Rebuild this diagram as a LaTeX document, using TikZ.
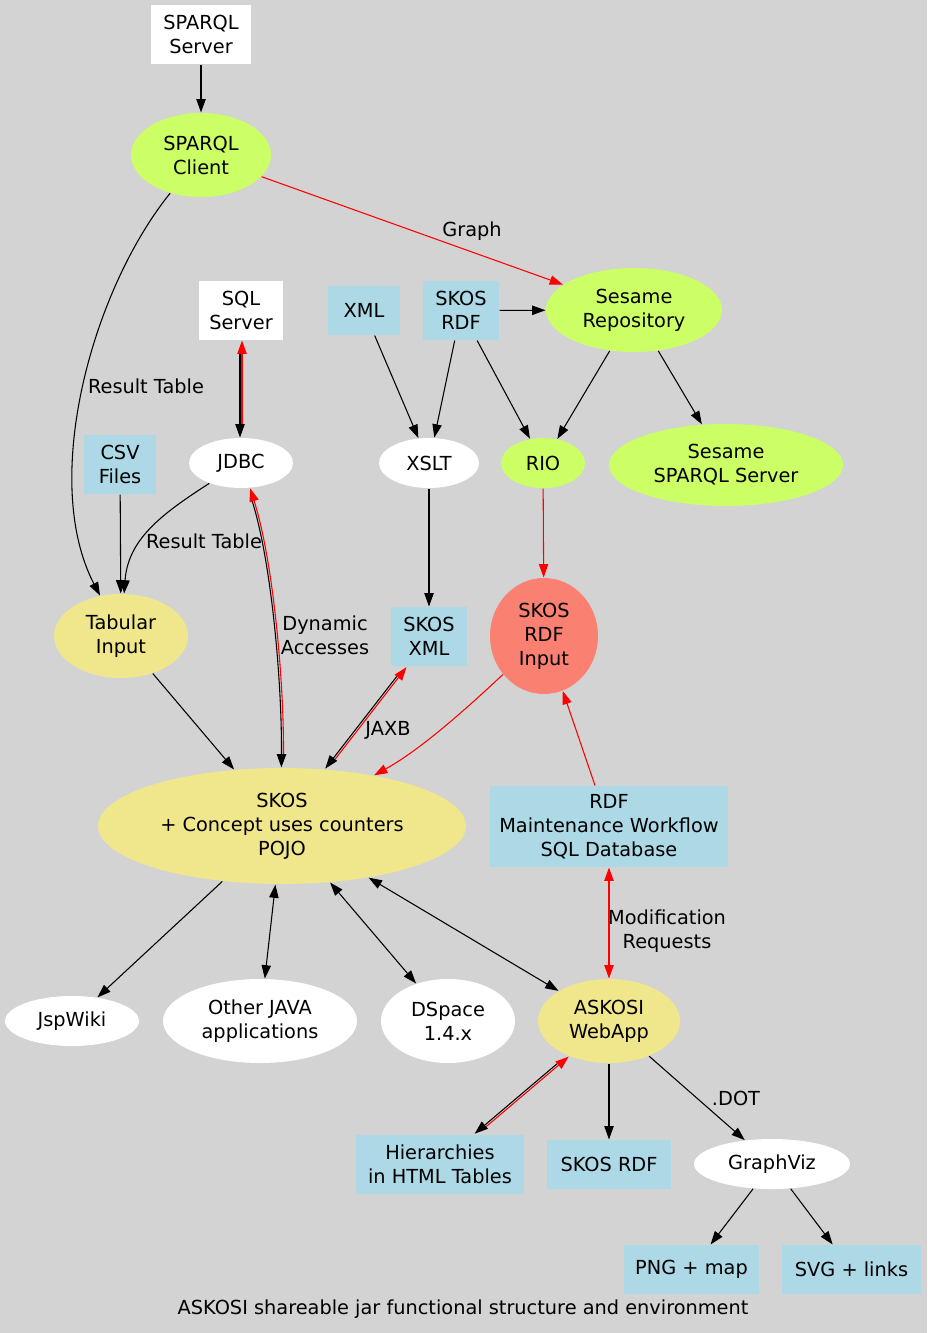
\documentclass[tikz,border=0pt]{standalone}
\usepackage{fontspec}
\setmainfont{DejaVu Sans}
\usetikzlibrary{shapes.geometric,arrows.meta}

\definecolor{bggray}{RGB}{211,211,211}
\definecolor{sparqlgreen}{RGB}{204,255,102}
\definecolor{khaki}{RGB}{240,230,140}
\definecolor{salmon}{RGB}{250,128,114}
\definecolor{lblue}{RGB}{173,216,230}

\tikzset{
  every node/.style={font=\fontsize{14.5}{18}\selectfont, align=center, inner sep=0pt},
  wbox/.style={rectangle, fill=white},
  bbox/.style={rectangle, fill=lblue},
  woval/.style={ellipse, fill=white},
  goval/.style={ellipse, fill=sparqlgreen},
  koval/.style={ellipse, fill=khaki},
  roval/.style={ellipse, fill=salmon}
}

\begin{document}
\begin{tikzpicture}[x=0.75pt, y=-0.75pt, line width=0.8pt,
  >={Triangle[length=10pt,width=7pt]}]
\fill[bggray] (0,0) rectangle (927,1333);

% nodes, top to bottom
\node[wbox, minimum width=75pt, minimum height=44.25pt] (sparqlsrv) at (201,34.5) {SPARQL\\Server};
\node[goval, minimum width=105pt, minimum height=63pt] (sparqlcli) at (201,155) {SPARQL\\Client};
\node[goval, minimum width=132pt, minimum height=63pt] (sesrepo) at (634,310) {Sesame\\Repository};
\node[wbox, minimum width=63pt, minimum height=44.25pt] (sqlsrv) at (241,310.5) {SQL\\Server};
\node[bbox, minimum width=54pt, minimum height=36.75pt] (xml) at (364,310.5) {XML};
\node[bbox, minimum width=57pt, minimum height=44.25pt] (skosrdf) at (461,310.5) {SKOS\\RDF};
\node[woval, minimum width=78pt, minimum height=37.5pt] (jdbc) at (241,463) {JDBC};
\node[woval, minimum width=75pt, minimum height=37.5pt] (xslt) at (429,463) {XSLT};
\node[goval, minimum width=63pt, minimum height=37.5pt] (rio) at (543,463) {RIO};
\node[goval, minimum width=175.5pt, minimum height=61.5pt] (sessparql) at (726,465) {Sesame\\SPARQL Server};
\node[bbox, minimum width=54pt, minimum height=44.25pt] (csv) at (120,464.5) {CSV\\Files};
\node[koval, minimum width=100.5pt, minimum height=63pt] (tabin) at (121,636) {Tabular\\Input};
\node[bbox, minimum width=57pt, minimum height=44.25pt] (skosxml) at (429,636.5) {SKOS\\XML};
\node[roval, minimum width=81pt, minimum height=87pt] (rdfin) at (544,636) {SKOS\\RDF\\Input};
\node[koval, minimum width=276pt, minimum height=87pt] (skos) at (282,826) {SKOS\\+ Concept uses counters\\POJO};
\node[bbox, minimum width=178.5pt, minimum height=60.75pt] (rdfmaint) at (609,826.5) {RDF\\Maintenance Workflow\\SQL Database};
\node[woval, minimum width=100.5pt, minimum height=37.5pt] (jspwiki) at (72,1021) {JspWiki};
\node[woval, minimum width=145.5pt, minimum height=63pt] (otherjava) at (260,1021) {Other JAVA\\applications};
\node[woval, minimum width=100.5pt, minimum height=63pt] (dspace) at (448,1021) {DSpace\\1.4.x};
\node[koval, minimum width=106.5pt, minimum height=63pt] (askosi) at (609,1021) {ASKOSI\\WebApp};
\node[bbox, minimum width=126pt, minimum height=44.25pt] (hier) at (440,1164.5) {Hierarchies\\in HTML Tables};
\node[bbox, minimum width=93pt, minimum height=36.75pt] (skosrdfout) at (609,1164.5) {SKOS RDF};
\node[woval, minimum width=117pt, minimum height=37.5pt] (graphviz) at (772,1164) {GraphViz};
\node[bbox, minimum width=101.25pt, minimum height=36.75pt] (png) at (691.5,1269.5) {PNG + map};
\node[bbox, minimum width=104.25pt, minimum height=36.75pt] (svg) at (851.5,1269.5) {SVG + links};

% edge labels
\node (lgraph) at (472,231) {Graph};
\node (lres1) at (146,386) {Result Table};
\node (lres2) at (204,541) {Result Table};
\node (ldyn) at (325,635) {Dynamic\\Accesses};
\node (ljaxb) at (388,730) {JAXB};
\node (lmod) at (667,931) {Modification\\Requests};
\node (ldot) at (736,1098) {.DOT};
\node (caption) at (463,1309) {ASKOSI shareable jar functional structure and environment};

% plain edges
\draw[->] (sparqlsrv) -- (sparqlcli);
\draw[->, red] (sparqlcli) -- (sesrepo);
\draw[->] (sparqlcli) .. controls (92,290) and (40,480) .. (tabin);
\draw[->] (jdbc) .. controls (160,515) and (128,540) .. (tabin);
\draw[->] (csv) -- (tabin);
\draw[->] (xml) -- (xslt);
\draw[->] (skosrdf) -- (xslt);
\draw[->] (skosrdf) -- (rio);
\draw[->] (skosrdf) -- (sesrepo);
\draw[->] (sesrepo) -- (rio);
\draw[->] (sesrepo) -- (sessparql);
\draw[->] (xslt) -- (skosxml);
\draw[->, red] (rio) -- (rdfin);
\draw[->] (tabin) -- (skos);
\draw[->, red] (rdfin) .. controls (465,710) and (420,750) .. (skos);
\draw[->, red] (rdfmaint) -- (rdfin);
\draw[<->, red] (rdfmaint) -- (askosi);
\draw[->] (skos) -- (jspwiki);
\draw[<->] (skos) -- (otherjava);
\draw[<->] (skos) -- (dspace);
\draw[<->] (skos) -- (askosi);
\draw[->] (askosi) -- (skosrdfout);
\draw[->] (askosi) -- (graphviz);
\draw[->] (graphviz) -- (png);
\draw[->] (graphviz) -- (svg);

% black:red double edges
\draw[->, transform canvas={xshift=-0.75pt}, shorten <=10pt] (sqlsrv) -- (jdbc);
\draw[->, red, transform canvas={xshift=0.75pt}, shorten <=10pt] (jdbc) -- (sqlsrv);
\draw[->, transform canvas={xshift=-0.75pt}, shorten <=10pt] (jdbc) .. controls (272,560) and (283,680) .. (skos);
\draw[->, red, transform canvas={xshift=0.75pt}, shorten <=10pt] (skos) .. controls (283,680) and (272,560) .. (jdbc);
\draw[->, transform canvas={xshift=-0.6pt, yshift=0.46pt}, shorten <=10pt] (skosxml) -- (skos);
\draw[->, red, transform canvas={xshift=0.6pt, yshift=-0.46pt}, shorten <=10pt] (skos) -- (skosxml);
\draw[->, transform canvas={xshift=-0.5pt, yshift=0.57pt}, shorten <=10pt] (askosi) -- (hier);
\draw[->, red, transform canvas={xshift=0.5pt, yshift=-0.57pt}, shorten <=10pt] (hier) -- (askosi);
\end{tikzpicture}
\end{document}
